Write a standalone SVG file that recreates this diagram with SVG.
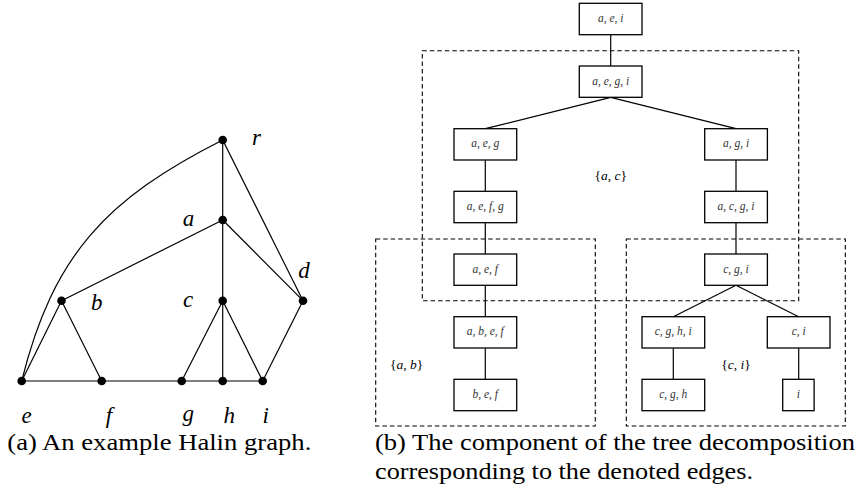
<svg xmlns="http://www.w3.org/2000/svg" width="857" height="498" viewBox="0 0 857 498">
<rect width="857" height="498" fill="#fff"/>
<g id="graph-edges" stroke="#000" stroke-width="1.2" fill="none">
<path d="M21.7,381 C53,255 106,199 222.7,140"/>
<line x1="222.7" y1="140" x2="222.7" y2="381"/>
<line x1="222.7" y1="140" x2="303" y2="300.7"/>
<line x1="222.7" y1="220" x2="61.5" y2="300.7"/>
<line x1="222.7" y1="220" x2="303" y2="300.7"/>
<line x1="61.5" y1="300.7" x2="21.7" y2="381"/>
<line x1="61.5" y1="300.7" x2="101.7" y2="381"/>
<line x1="222.7" y1="300.7" x2="181.7" y2="381"/>
<line x1="222.7" y1="300.7" x2="262.7" y2="381"/>
<line x1="303" y1="300.7" x2="262.7" y2="381"/>
<line x1="21.7" y1="381" x2="262.7" y2="381"/>
</g>
<g id="graph-vertices" fill="#000" font-family="Liberation Serif" font-style="italic" font-size="23" text-anchor="middle">
<g id="v-r"><circle cx="222.7" cy="140" r="4.3"/><text x="256.5" y="145">r</text></g>
<g id="v-a"><circle cx="222.7" cy="220" r="4.3"/><text x="188.5" y="226">a</text></g>
<g id="v-b"><circle cx="61.5" cy="300.7" r="4.3"/><text x="96.7" y="309.5">b</text></g>
<g id="v-c"><circle cx="222.7" cy="300.7" r="4.3"/><text x="188" y="306.5">c</text></g>
<g id="v-d"><circle cx="303" cy="300.7" r="4.3"/><text x="304" y="278">d</text></g>
<g id="v-e"><circle cx="21.7" cy="381" r="4.3"/><text x="26.7" y="423">e</text></g>
<g id="v-f"><circle cx="101.7" cy="381" r="4.3"/><text x="109" y="423">f</text></g>
<g id="v-g"><circle cx="181.7" cy="381" r="4.3"/><text x="188.3" y="421">g</text></g>
<g id="v-h"><circle cx="222.7" cy="381" r="4.3"/><text x="229.3" y="423">h</text></g>
<g id="v-i"><circle cx="262.7" cy="381" r="4.3"/><text x="265.8" y="423">i</text></g>
</g>
<g id="regions" font-family="Liberation Serif" font-size="13.5" text-anchor="middle">
<g id="region-ac"><rect x="422.3" y="50.7" width="376.4" height="250" fill="none" stroke="#000" stroke-width="1.1" stroke-dasharray="4.5 3"/><text x="610.7" y="179.5">&#123;<tspan font-style="italic">a</tspan>, <tspan font-style="italic">c</tspan>&#125;</text></g>
<g id="region-ab"><rect x="375.7" y="239" width="219.6" height="187" fill="none" stroke="#000" stroke-width="1.1" stroke-dasharray="4.5 3"/><text x="406.7" y="368.5">&#123;<tspan font-style="italic">a</tspan>, <tspan font-style="italic">b</tspan>&#125;</text></g>
<g id="region-ci"><rect x="626.3" y="239" width="219" height="187" fill="none" stroke="#000" stroke-width="1.1" stroke-dasharray="4.5 3"/><text x="736" y="368.5">&#123;<tspan font-style="italic">c</tspan>, <tspan font-style="italic">i</tspan>&#125;</text></g>
</g>
<g id="tree-edges" stroke="#000" stroke-width="1.2" fill="none">
<line x1="610.7" y1="34.7" x2="610.7" y2="66"/>
<line x1="610.7" y1="97.3" x2="485.3" y2="128.7"/>
<line x1="610.7" y1="97.3" x2="736" y2="128.7"/>
<line x1="485.3" y1="160" x2="485.3" y2="191.3"/>
<line x1="736" y1="160" x2="736" y2="191.3"/>
<line x1="485.3" y1="222.7" x2="485.3" y2="254"/>
<line x1="736" y1="222.7" x2="736" y2="254"/>
<line x1="485.3" y1="285.3" x2="485.3" y2="316.7"/>
<line x1="736" y1="285.3" x2="673.3" y2="316.7"/>
<line x1="736" y1="285.3" x2="798.7" y2="316.7"/>
<line x1="485.3" y1="348" x2="485.3" y2="379.3"/>
<line x1="673.3" y1="348" x2="673.3" y2="379.3"/>
<line x1="798.7" y1="348" x2="798.7" y2="379.3"/>
</g>
<g id="tree-bags" font-family="Liberation Serif" font-style="italic" font-size="11.5" text-anchor="middle">
<g id="t-aei"><rect x="579.3" y="3.3" width="62.7" height="31.4" fill="#fff" stroke="#000" stroke-width="1.3"/><text x="610.7" y="22" fill="#333">a, e, i</text></g>
<g id="t-aegi"><rect x="579.3" y="66" width="62.7" height="31.3" fill="#fff" stroke="#000" stroke-width="1.3"/><text x="610.7" y="84.7" fill="#333">a, e, g, i</text></g>
<g id="t-aeg"><rect x="454" y="128.7" width="62.7" height="31.3" fill="#fff" stroke="#000" stroke-width="1.3"/><text x="485.3" y="147.4" fill="#333">a, e, g</text></g>
<g id="t-agi"><rect x="704.7" y="128.7" width="62.7" height="31.3" fill="#fff" stroke="#000" stroke-width="1.3"/><text x="736" y="147.4" fill="#333">a, g, i</text></g>
<g id="t-aefg"><rect x="454" y="191.3" width="62.7" height="31.4" fill="#fff" stroke="#000" stroke-width="1.3"/><text x="485.3" y="210" fill="#333">a, e, f, g</text></g>
<g id="t-acgi"><rect x="704.7" y="191.3" width="62.7" height="31.4" fill="#fff" stroke="#000" stroke-width="1.3"/><text x="736" y="210" fill="#333">a, c, g, i</text></g>
<g id="t-aef"><rect x="454" y="254" width="62.7" height="31.3" fill="#fff" stroke="#000" stroke-width="1.3"/><text x="485.3" y="272.7" fill="#333">a, e, f</text></g>
<g id="t-cgi"><rect x="704.7" y="254" width="62.7" height="31.3" fill="#fff" stroke="#000" stroke-width="1.3"/><text x="736" y="272.7" fill="#333">c, g, i</text></g>
<g id="t-abef"><rect x="454" y="316.7" width="62.7" height="31.3" fill="#fff" stroke="#000" stroke-width="1.3"/><text x="485.3" y="335.4" fill="#333">a, b, e, f</text></g>
<g id="t-cghi"><rect x="642" y="316.7" width="62.7" height="31.3" fill="#fff" stroke="#000" stroke-width="1.3"/><text x="673.3" y="335.4" fill="#333">c, g, h, i</text></g>
<g id="t-ci"><rect x="767.3" y="316.7" width="62.7" height="31.3" fill="#fff" stroke="#000" stroke-width="1.3"/><text x="798.7" y="335.4" fill="#333">c, i</text></g>
<g id="t-bef"><rect x="454" y="379.3" width="62.7" height="31.4" fill="#fff" stroke="#000" stroke-width="1.3"/><text x="485.3" y="398" fill="#333">b, e, f</text></g>
<g id="t-cgh"><rect x="642" y="379.3" width="62.7" height="31.4" fill="#fff" stroke="#000" stroke-width="1.3"/><text x="673.3" y="398" fill="#333">c, g, h</text></g>
<g id="t-i"><rect x="782.7" y="379.3" width="31.4" height="31.4" fill="#fff" stroke="#000" stroke-width="1.3"/><text x="798.4" y="398" fill="#333">i</text></g>
</g>
<g id="captions" font-family="Liberation Serif" font-size="24" fill="#000">
<text x="7.3" y="449.5" textLength="304" lengthAdjust="spacingAndGlyphs">(a) An example Halin graph.</text>
<text x="375" y="449.5" textLength="480" lengthAdjust="spacingAndGlyphs">(b) The component of the tree decomposition</text>
<text x="375" y="478.5" textLength="378" lengthAdjust="spacingAndGlyphs">corresponding to the denoted edges.</text>
</g>
</svg>
